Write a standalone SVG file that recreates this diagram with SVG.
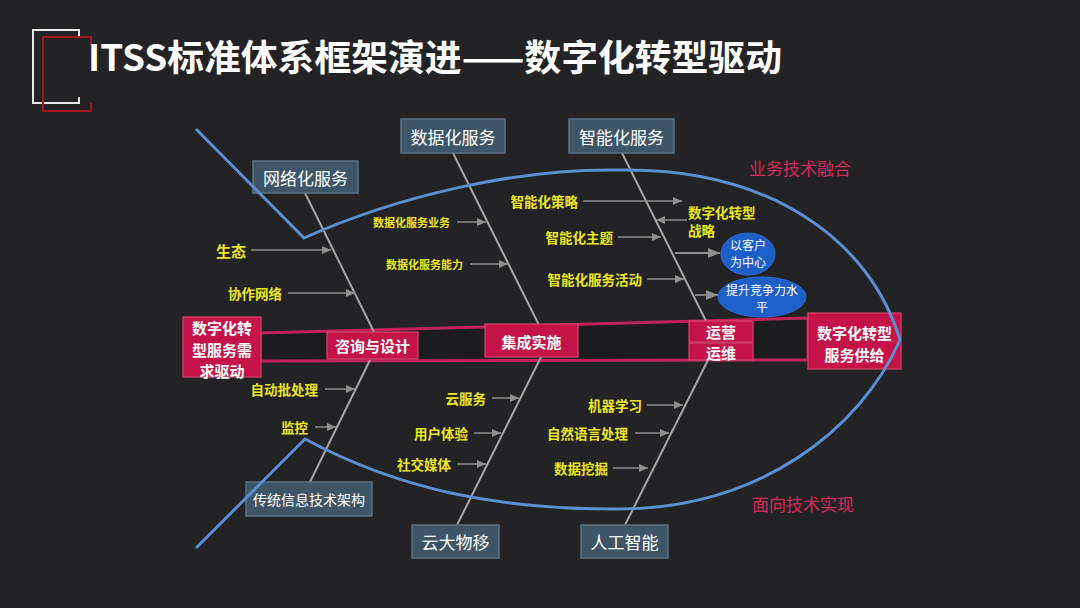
<svg xmlns="http://www.w3.org/2000/svg" width="1080" height="608" viewBox="0 0 1080 608">
<defs>
<style>
.bg{fill:#232325}
.title{font-family:"Noto Sans CJK SC","Liberation Sans",sans-serif;font-weight:700;font-size:36px;fill:#ffffff}
.slate{fill:#3e5568;stroke:#5b7284;stroke-width:1.5}
.slatet{font-family:"Noto Sans CJK SC","Liberation Sans",sans-serif;font-size:17px;fill:#ffffff;text-anchor:middle;dominant-baseline:central}
.crim{fill:#c5134a;stroke:#d4466f;stroke-width:1.2}
.crimt{font-family:"Noto Sans CJK SC","Liberation Sans",sans-serif;font-weight:700;font-size:15px;fill:#ffffff;text-anchor:middle;dominant-baseline:central}
.yl{font-family:"Noto Sans CJK SC","Liberation Sans",sans-serif;font-weight:700;font-size:13.5px;fill:#ece61e;text-anchor:end;dominant-baseline:central}
.rl{font-family:"Noto Sans CJK SC","Liberation Sans",sans-serif;font-size:17px;fill:#d42a5c;dominant-baseline:central}
.bone{stroke:#a6a6a6;stroke-width:2;fill:none}
.arr{stroke:#8f8f8f;stroke-width:1.5;fill:none;marker-end:url(#ah)}
.arrb{stroke:#8f8f8f;stroke-width:1.8;fill:none;marker-end:url(#ahb)}
.fish{stroke:#5b8fd4;stroke-width:3;fill:none;stroke-linejoin:miter}
.ell{fill:#1d5fc9;stroke:#2a6fd8;stroke-width:1}
.ellt{font-family:"Noto Sans CJK SC","Liberation Sans",sans-serif;font-size:12px;fill:#ffffff;text-anchor:middle;dominant-baseline:central}
</style>
<marker id="ah" markerUnits="userSpaceOnUse" markerWidth="9" markerHeight="8" refX="9" refY="4" orient="auto"><path d="M0,0 L9,4 L0,8 z" fill="#8f8f8f"/></marker>
<marker id="ahb" markerUnits="userSpaceOnUse" markerWidth="12" markerHeight="10" refX="12" refY="5" orient="auto"><path d="M0,0 L12,5 L0,10 z" fill="#8f8f8f"/></marker>
</defs>
<rect class="bg" x="0" y="0" width="1080" height="608"/>

<g id="title-deco">
<path d="M79,37 V30 H33 V103 H79 V97" fill="none" stroke="#e8e8e8" stroke-width="2"/>
<path d="M91,45 V37 H43 V111 H91 V103" fill="none" stroke="#a3161e" stroke-width="2"/>
</g>
<text id="title" class="title" x="88" y="71" textLength="694" lengthAdjust="spacingAndGlyphs">ITSS标准体系框架演进——数字化转型驱动</text>

<g id="spine">
<polygon points="260,333 808,318 808,360 260,361" fill="#1c1c1e" stroke="#c2225a" stroke-width="3"/>
</g>

<g id="connectors">
<line class="bone" x1="305" y1="193" x2="374" y2="332"/>
<line class="bone" x1="453" y1="153" x2="539" y2="325"/>
<line class="bone" x1="622" y1="153" x2="706" y2="321"/>
<line class="bone" x1="370" y1="360" x2="310" y2="482"/>
<line class="bone" x1="541" y1="357" x2="457" y2="525"/>
<line class="bone" x1="708" y1="360" x2="625" y2="525"/>

<line class="arr" x1="251" y1="250" x2="331" y2="250"/>
<line class="arr" x1="288" y1="293" x2="355" y2="293"/>
<line class="arr" x1="457" y1="222" x2="486" y2="222"/>
<line class="arr" x1="470" y1="264" x2="508" y2="264"/>
<line class="arr" x1="583" y1="201" x2="682" y2="201"/>
<line class="arr" x1="687" y1="220" x2="656" y2="220"/>
<line class="arr" x1="618" y1="237" x2="661" y2="237"/>
<line class="arrb" x1="675" y1="253" x2="720" y2="253"/>
<line class="arr" x1="647" y1="279" x2="684" y2="279"/>
<line class="arrb" x1="695" y1="295" x2="718" y2="295"/>
<line class="arr" x1="325" y1="389" x2="355" y2="389"/>
<line class="arr" x1="315" y1="427" x2="336" y2="427"/>
<line class="arr" x1="492" y1="398" x2="519" y2="398"/>
<line class="arr" x1="474" y1="433" x2="501" y2="433"/>
<line class="arr" x1="457" y1="464" x2="486" y2="464"/>
<line class="arr" x1="647" y1="405" x2="683" y2="405"/>
<line class="arr" x1="635" y1="433" x2="669" y2="433"/>
<line class="arr" x1="613" y1="468" x2="648" y2="468"/>
</g>

<g id="n-demand"><rect class="crim" x="183" y="317" width="78" height="60"/><text class="crimt" x="222" y="327">数字化转</text><text class="crimt" x="222" y="349">型服务需</text><text class="crimt" x="222" y="370">求驱动</text></g>
<g id="n-consult"><rect class="crim" x="327" y="332" width="91" height="27"/><text class="crimt" x="372.5" y="345.5">咨询与设计</text></g>
<g id="n-integrate"><rect class="crim" x="485" y="324" width="93" height="33"/><text class="crimt" x="531.5" y="341">集成实施</text></g>
<g id="n-operate"><rect class="crim" x="689" y="321" width="64" height="21"/><text class="crimt" x="721" y="331.5">运营</text></g>
<g id="n-maintain"><rect class="crim" x="689" y="343" width="64" height="17"/><text class="crimt" x="721" y="352">运维</text></g>
<g id="n-supply"><rect class="crim" x="808" y="313" width="93" height="56"/><text class="crimt" x="854.5" y="332">数字化转型</text><text class="crimt" x="854.5" y="354">服务供给</text></g>

<g id="n-network"><rect class="slate" x="253" y="161" width="105" height="32"/><text class="slatet" x="305.5" y="177">网络化服务</text></g>
<g id="n-data"><rect class="slate" x="401" y="119" width="104" height="34"/><text class="slatet" x="453" y="136">数据化服务</text></g>
<g id="n-smart"><rect class="slate" x="569" y="119" width="105" height="34"/><text class="slatet" x="621.5" y="136">智能化服务</text></g>
<g id="n-legacy"><rect class="slate" x="246" y="482" width="126" height="34"/><text class="slatet" x="309" y="499" style="font-size:14px">传统信息技术架构</text></g>
<g id="n-cloud"><rect class="slate" x="412" y="525" width="87" height="33"/><text class="slatet" x="455.5" y="541.5">云大物移</text></g>
<g id="n-ai"><rect class="slate" x="581" y="525" width="87" height="33"/><text class="slatet" x="624.5" y="541.5">人工智能</text></g>

<g id="n-customer"><ellipse class="ell" cx="748" cy="254" rx="27" ry="21"/><text class="ellt" x="748" y="244">以客户</text><text class="ellt" x="748" y="261">为中心</text></g>
<g id="n-compete"><ellipse class="ell" cx="762" cy="297" rx="44" ry="20"/><text class="ellt" x="762" y="289">提升竞争力水</text><text class="ellt" x="762" y="306">平</text></g>

<g id="labels">
<text class="yl" x="246" y="250" style="font-size:15px">生态</text>
<text class="yl" x="282" y="293">协作网络</text>
<text class="yl" x="450" y="222" style="font-size:11px">数据化服务业务</text>
<text class="yl" x="463" y="264" style="font-size:11px">数据化服务能力</text>
<text class="yl" x="578" y="201">智能化策略</text>
<text class="yl" x="688" y="212" style="text-anchor:start">数字化转型</text>
<text class="yl" x="688" y="230" style="text-anchor:start">战略</text>
<text class="yl" x="613" y="237">智能化主题</text>
<text class="yl" x="642" y="279">智能化服务活动</text>
<text class="yl" x="318" y="389">自动批处理</text>
<text class="yl" x="308" y="427">监控</text>
<text class="yl" x="486" y="398">云服务</text>
<text class="yl" x="468" y="433">用户体验</text>
<text class="yl" x="451" y="464">社交媒体</text>
<text class="yl" x="642" y="405">机器学习</text>
<text class="yl" x="628" y="433">自然语言处理</text>
<text class="yl" x="608" y="468">数据挖掘</text>
<text class="rl" x="749" y="167">业务技术融合</text>
<text class="rl" x="752" y="503">面向技术实现</text>
</g>

<g id="fish-outline">
<path class="fish" d="M196,129 L304,238 C400,195 520,168 620,170 C770,168 870,240 900,340"/>
<path class="fish" d="M196,548 L305,439 C400,490 500,510 620,509 C760,508 860,430 900,340"/>
</g>
</svg>
